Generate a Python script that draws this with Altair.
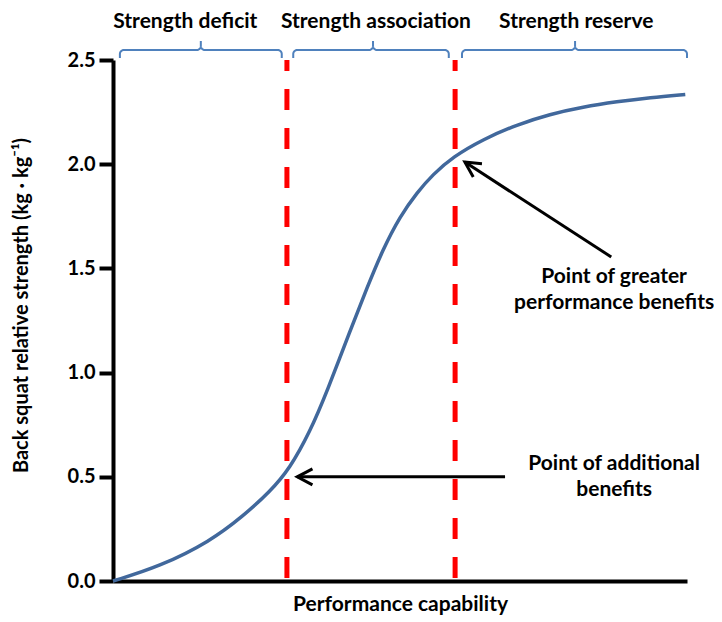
import math
import altair as alt
import pandas as pd

FONT = "Lato"

# Curve: performance capability (0-100, unitless) vs back squat relative strength
perf = [0, 8.2, 16.9, 22.6, 27.4, 30.8, 34.3, 37.3, 41.3, 44.3, 47.0, 50.0,
        53.0, 55.7, 59.2, 64.5, 70.4, 76.1, 81.9, 87.8, 93.6, 99.7]
strength = [0, 0.07, 0.19, 0.31, 0.43, 0.54, 0.715, 0.91, 1.20, 1.41, 1.59, 1.75,
            1.865, 1.95, 2.035, 2.12, 2.19, 2.24, 2.275, 2.30, 2.32, 2.335]

# Region boundaries (red dashed lines)
boundaries = [30.3, 59.6]

# Regions (braces + labels)
region_names = ["Strength deficit", "Strength association", "Strength reserve"]
region_starts = [1.2, 31.4, 60.8]
region_ends = [29.4, 58.5, 100.0]
region_mids = [15.3, 45.3, 80.5]
label_x = [12.6, 45.8, 80.7]
label_y = 2.68

# Annotations
annot_lines = ["Point of additional", "benefits", "Point of greater", "performance benefits"]
annot_x = [87.3, 87.3, 87.3, 87.3]
annot_y = [0.56, 0.435, 1.46, 1.335]

arrow_tail_x = [68.3, 86.8]
arrow_tail_y = [0.5, 1.555]
arrow_head_x = [32.1, 61.3]
arrow_head_y = [0.5, 2.01]

y_ticks = [0, 0.5, 1.0, 1.5, 2.0, 2.5]

W, H = 574, 521
PX_X = 100 / W      # data units per pixel, x
PX_Y = 2.5 / H      # data units per pixel, y

# ---- build tables ----
curve_df = pd.DataFrame({"perf": perf, "strength": strength})
bound_df = pd.DataFrame({"perf": boundaries, "strength": [2.5] * len(boundaries), "bottom": [0.0] * len(boundaries)})
label_df = pd.DataFrame({"name": region_names, "perf": label_x, "strength": [label_y] * 3})
annot_df = pd.DataFrame({"text": annot_lines, "perf": annot_x, "strength": annot_y})
arrow_df = pd.DataFrame({"perf": arrow_tail_x, "strength": arrow_tail_y, "x2": arrow_head_x, "y2": arrow_head_y})

angles = []
for tx, ty, hx, hy in zip(arrow_tail_x, arrow_tail_y, arrow_head_x, arrow_head_y):
    dx = (hx - tx) / PX_X
    dy = -(hy - ty) / PX_Y
    a = math.degrees(math.atan2(dy, dx)) - 180.0
    angles.append(a % 360)
head_df = pd.DataFrame({"perf": arrow_head_x, "strength": arrow_head_y, "angle": angles})

# braces: shape built in pixel offsets above the plot top, converted to data units
rows = []
end_off, mid_off, peak_off, r = 2.0, 10.0, 19.0, 4.0
for i, (x0, x1, xm) in enumerate(zip(region_starts, region_ends, region_mids)):
    pts = [(x0, end_off)]
    for k in range(10):
        t = math.radians(90 * k / 9)
        pts.append((x0 + (r - r * math.cos(t)) * PX_X, (mid_off - r) + r * math.sin(t)))
    for k in range(10):
        t = math.radians(90 * k / 9)
        pts.append((xm - (r - r * math.sin(t)) * PX_X, (mid_off + r) - r * math.cos(t)))
    pts.append((xm, peak_off))
    right = [(x1, end_off)]
    for k in range(10):
        t = math.radians(90 * k / 9)
        right.append((x1 - (r - r * math.cos(t)) * PX_X, (mid_off - r) + r * math.sin(t)))
    for k in range(10):
        t = math.radians(90 * k / 9)
        right.append((xm + (r - r * math.sin(t)) * PX_X, (mid_off + r) - r * math.cos(t)))
    pts += list(reversed(right))
    for j, (bx, by) in enumerate(pts):
        rows.append({"brace": i, "o": j, "perf": bx, "strength": 2.5 + by * PX_Y})
brace_df = pd.DataFrame(rows)

x_scale = alt.Scale(domain=[0, 100], nice=False, zero=False)
y_scale = alt.Scale(domain=[0, 2.5], nice=False)

x_axis = alt.Axis(
    title="Performance capability", labels=False, ticks=False, grid=False,
    domainColor="black", domainWidth=4,
    titleFont=FONT, titleFontSize=21, titleFontWeight="bold", titleColor="black",
    titleX=287, titleY=23, titleBaseline="middle",
)
y_axis = alt.Axis(
    title="Back squat relative strength (kg · kg⁻¹)", values=y_ticks, format=".1f", grid=False,
    domainColor="black", domainWidth=4, tickColor="black", tickWidth=4, tickSize=14,
    labelFont=FONT, labelFontSize=20, labelFontWeight="bold", labelColor="black", labelPadding=4,
    titleFont=FONT, titleFontSize=20, titleFontWeight="bold", titleColor="black",
    titleX=-92, titleY=245, titleAngle=270, titleBaseline="middle",
)

X = alt.X("perf:Q", scale=x_scale, axis=x_axis)
Y = alt.Y("strength:Q", scale=y_scale, axis=y_axis)

curve = alt.Chart(curve_df).mark_line(color="#41689C", strokeWidth=3.5, interpolate="basis").encode(x=X, y=Y)

bounds = alt.Chart(bound_df).mark_rule(
    color="#FF0000", strokeWidth=5, strokeDash=[21, 18], strokeDashOffset=10
).encode(
    x=X, y=Y, y2="bottom:Q",
)

braces = alt.Chart(brace_df).mark_line(color="#4F81BD", strokeWidth=2).encode(
    x=X, y=Y, detail="brace:N", order="o:Q",
)

labels = alt.Chart(label_df).mark_text(font=FONT, fontSize=21, fontWeight="bold", color="black", baseline="middle").encode(
    x=X, y=Y, text="name:N",
)

annots = alt.Chart(annot_df).mark_text(font=FONT, fontSize=21, fontWeight="bold", color="black", baseline="middle").encode(
    x=X, y=Y, text="text:N",
)

arrows = alt.Chart(arrow_df).mark_rule(color="black", strokeWidth=3).encode(
    x=X, y=Y, x2="x2:Q", y2="y2:Q",
)

heads = alt.Chart(head_df).mark_point(
    shape="M 1.9 -1 L 0 0 L 1.9 1", filled=False, size=256, strokeWidth=3,
    color="black", opacity=1, strokeJoin="miter",
).encode(
    x=X, y=Y, angle=alt.Angle("angle:Q", scale=None),
)

chart = alt.layer(curve, bounds, braces, labels, annots, arrows, heads).properties(
    width=W, height=H,
    autosize=alt.AutoSizeParams(type="none"),
    padding={"left": 105, "top": 52, "right": 27, "bottom": 38},
    background="white",
).configure_view(stroke=None)

chart.save("out.html", embed_options={"renderer": "svg", "actions": False})
